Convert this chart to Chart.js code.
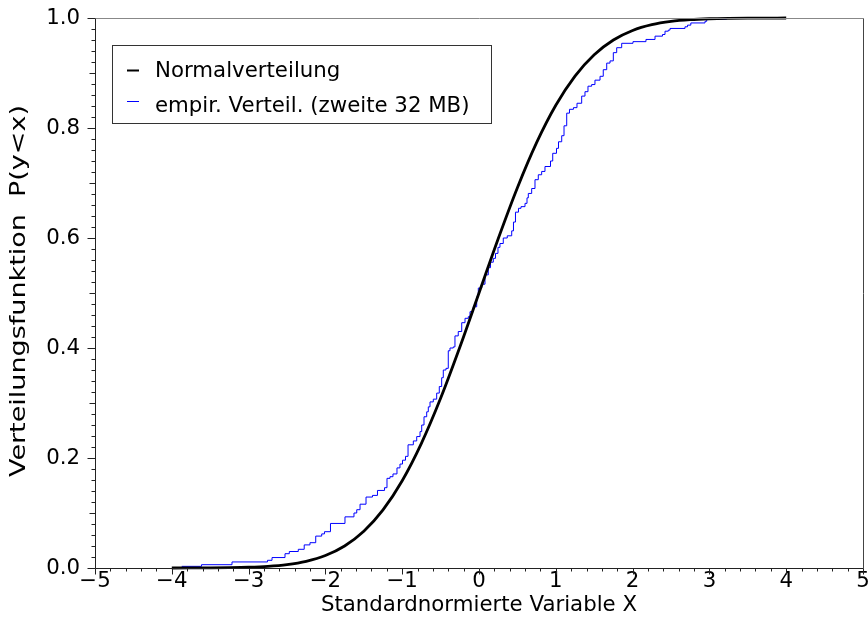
<!DOCTYPE html>
<html><head><meta charset="utf-8">
<script src="https://cdn.jsdelivr.net/npm/chart.js@4.4.0/dist/chart.umd.min.js"></script>
<style>html,body{margin:0;padding:0;background:#fff;}#wrap{width:868px;height:630px;}</style>
</head><body><div id="wrap"><canvas id="c" width="868" height="630"></canvas></div>
<script>
const xTickLabels = ['\u22125','\u22124','\u22123','\u22122','\u22121','0','1','2','3','4','5'];
const yTickLabels = ['0.0','0.2','0.4','0.6','0.8','1.0'];
const seriesLabels = ['Normalverteilung','empir. Verteil. (zweite 32 MB)'];
const xTitle = 'Standardnormierte Variable X';
const yTitle = 'Verteilungsfunktion  P(y<x)';

const normX = [-4,-3.75,-3.5,-3.25,-3,-2.75,-2.5,-2.25,-2,-1.75,-1.5,-1.25,-1,-0.75,-0.5,-0.25,0,
  0.25,0.5,0.75,1,1.25,1.5,1.75,2,2.25,2.5,2.75,3,3.25,3.5,3.75,4];
const normY = [0.00003,0.00009,0.00023,0.00058,0.00135,0.00298,0.00621,0.01222,0.02275,0.04006,0.06681,0.10565,0.15866,0.22663,0.30854,0.40129,0.5,
  0.59871,0.69146,0.77337,0.84134,0.89435,0.93319,0.95994,0.97725,0.98778,0.99379,0.99702,0.99865,0.99942,0.99977,0.99991,0.99997];

const empX = [
  -3.871,-3.613,-3.216,-2.754,-2.695,-2.526,-2.470,-2.353,-2.276,-2.201,
  -2.126,-2.048,-2.012,-1.934,-1.745,-1.628,-1.592,-1.549,-1.471,-1.387,
  -1.322,-1.230,-1.198,-1.159,-1.120,-1.068,-1.029,-0.996,-0.957,-0.924,
  -0.855,-0.811,-0.768,-0.746,-0.716,-0.681,-0.660,-0.638,-0.595,-0.551,
  -0.517,-0.486,-0.465,-0.430,-0.400,-0.378,-0.335,-0.313,-0.270,-0.225,
  -0.182,-0.139,-0.117,-0.074,-0.030,-0.009,0.035,0.078,0.121,0.150,
  0.186,0.215,0.247,0.273,0.316,0.368,0.426,0.449,0.475,0.514,
  0.547,0.599,0.625,0.642,0.686,0.729,0.772,0.816,0.859,0.931,
  0.960,1.009,1.035,1.077,1.107,1.142,1.178,1.230,1.276,1.337,
  1.380,1.419,1.467,1.510,1.576,1.618,1.663,1.706,1.749,1.793,
  1.858,2.005,2.174,2.292,2.389,2.422,2.465,2.487,2.682,2.715,
  2.758,2.943,2.965,3.225];
const empY = [
  0.003,0.006,0.011,0.014,0.019,0.026,0.030,0.034,0.042,0.046,
  0.058,0.062,0.066,0.081,0.093,0.100,0.106,0.116,0.129,0.132,
  0.141,0.146,0.163,0.166,0.171,0.182,0.189,0.196,0.203,0.224,
  0.231,0.239,0.248,0.260,0.275,0.284,0.293,0.302,0.307,0.318,
  0.330,0.346,0.360,0.363,0.395,0.400,0.402,0.422,0.430,0.446,
  0.454,0.457,0.466,0.475,0.493,0.509,0.516,0.533,0.546,0.556,
  0.563,0.572,0.583,0.590,0.600,0.604,0.613,0.629,0.647,0.654,
  0.657,0.663,0.673,0.681,0.690,0.706,0.715,0.721,0.730,0.740,
  0.754,0.763,0.775,0.786,0.804,0.827,0.834,0.837,0.845,0.858,
  0.866,0.876,0.879,0.887,0.894,0.906,0.918,0.922,0.937,0.946,
  0.954,0.957,0.961,0.967,0.970,0.976,0.978,0.981,0.984,0.987,
  0.991,0.994,0.998,1.000];

const FONT = {family: '"DejaVu Sans", sans-serif', size: 21.3};
const fontStr = () => FONT.size + 'px ' + FONT.family;

const frameTicks = {
  id: 'frameTicks',
  afterDraw(chart) {
    const {ctx, chartArea: a, scales: {x, y}} = chart;
    const L = Math.round(a.left) + 0.5, R = Math.round(a.right) + 0.5;
    const T = Math.round(a.top) + 0.5, B = Math.round(a.bottom) + 0.5;
    ctx.save();
    ctx.lineWidth = 1;
    ctx.strokeStyle = '#222';
    ctx.beginPath();
    for (let i = 0; i <= 50; i++) {
      const px = Math.round(x.getPixelForValue(-5 + i * 0.2)) + 0.5;
      const len = i % 5 === 0 ? 6 : 3;
      ctx.moveTo(px, B); ctx.lineTo(px, B + len);
    }
    for (let i = 0; i <= 50; i++) {
      const py = Math.round(y.getPixelForValue(i * 0.02)) + 0.5;
      const len = i % 10 === 0 ? 8 : (i % 5 === 0 ? 6 : 4);
      ctx.moveTo(L, py); ctx.lineTo(L - len, py);
    }
    ctx.stroke();
    ctx.strokeStyle = '#888';
    ctx.beginPath();
    ctx.moveTo(L, T); ctx.lineTo(R, T);
    ctx.stroke();
    ctx.strokeStyle = '#444';
    ctx.beginPath();
    ctx.moveTo(R, T); ctx.lineTo(R, B);
    ctx.stroke();
    ctx.strokeStyle = '#222';
    ctx.beginPath();
    ctx.moveTo(L, T); ctx.lineTo(L, B); ctx.lineTo(R, B);
    ctx.stroke();

    // rotated y-axis title, stretched along its length like the reference
    ctx.save();
    ctx.font = fontStr();
    ctx.fillStyle = '#000';
    ctx.textAlign = 'center';
    ctx.textBaseline = 'middle';
    const w = ctx.measureText(yTitle).width;
    const target = 372;
    ctx.translate(19.5, (a.top + a.bottom) / 2 - 2);
    ctx.rotate(-Math.PI / 2);
    ctx.scale(target / w, 1);
    ctx.fillText(yTitle, 0, 0);
    ctx.restore();
    ctx.restore();
  }
};

const boxLegend = {
  id: 'boxLegend',
  afterDraw(chart) {
    const ctx = chart.ctx;
    ctx.save();
    ctx.fillStyle = '#fff';
    ctx.fillRect(112.5, 45.5, 379, 78);
    ctx.strokeStyle = '#333';
    ctx.lineWidth = 1;
    ctx.strokeRect(112.5, 45.5, 379, 78);
    const rows = [{ly: 70.5, ty: 77}, {ly: 101.5, ty: 112}];
    chart.data.datasets.forEach((ds, i) => {
      ctx.strokeStyle = ds.borderColor;
      ctx.lineWidth = i === 0 ? 2 : 1;
      ctx.beginPath();
      ctx.moveTo(127, rows[i].ly); ctx.lineTo(139, rows[i].ly);
      ctx.stroke();
      ctx.fillStyle = '#000';
      ctx.font = fontStr();
      ctx.textBaseline = 'alphabetic';
      ctx.textAlign = 'left';
      ctx.fillText(ds.label, 155, rows[i].ty);
    });
    ctx.restore();
  }
};

new Chart(document.getElementById('c'), {
  type: 'line',
  data: {
    datasets: [
      {label: seriesLabels[0], data: normX.map((v, i) => ({x: v, y: normY[i]})),
       borderColor: '#000000', borderWidth: 2.8, pointRadius: 0, fill: false,
       cubicInterpolationMode: 'monotone', clip: 6},
      {label: seriesLabels[1], data: empX.map((v, i) => ({x: v, y: empY[i]})),
       borderColor: '#0000ff', borderWidth: 1, pointRadius: 0, fill: false,
       stepped: 'before', clip: 6}
    ]
  },
  options: {
    responsive: false, animation: false, devicePixelRatio: 1,
    layout: {padding: {top: 18, right: 5, left: 0, bottom: 0}},
    plugins: {legend: {display: false}, tooltip: {enabled: false}},
    scales: {
      x: {
        type: 'linear', min: -5, max: 5,
        afterFit(s) { s.height = 62; s.paddingLeft = 0; s.paddingRight = 0; },
        grid: {display: false, drawTicks: false},
        border: {display: false},
        ticks: {stepSize: 1, autoSkip: false, maxRotation: 0, padding: 1, color: '#000', font: FONT,
                callback: v => xTickLabels[Math.round(v + 5)]},
        title: {display: true, text: xTitle, color: '#000', font: FONT, padding: {top: 0, bottom: 12}}
      },
      y: {
        type: 'linear', min: 0, max: 1,
        afterFit(s) { s.width = 95; s.paddingTop = 0; s.paddingBottom = 0; },
        grid: {display: false, drawTicks: false},
        border: {display: false},
        ticks: {stepSize: 0.2, autoSkip: false, padding: 15, color: '#000', font: FONT,
                callback: v => yTickLabels[Math.round(v * 5)]},
        title: {display: false, text: yTitle}
      }
    }
  },
  plugins: [frameTicks, boxLegend]
});
</script></body></html>
